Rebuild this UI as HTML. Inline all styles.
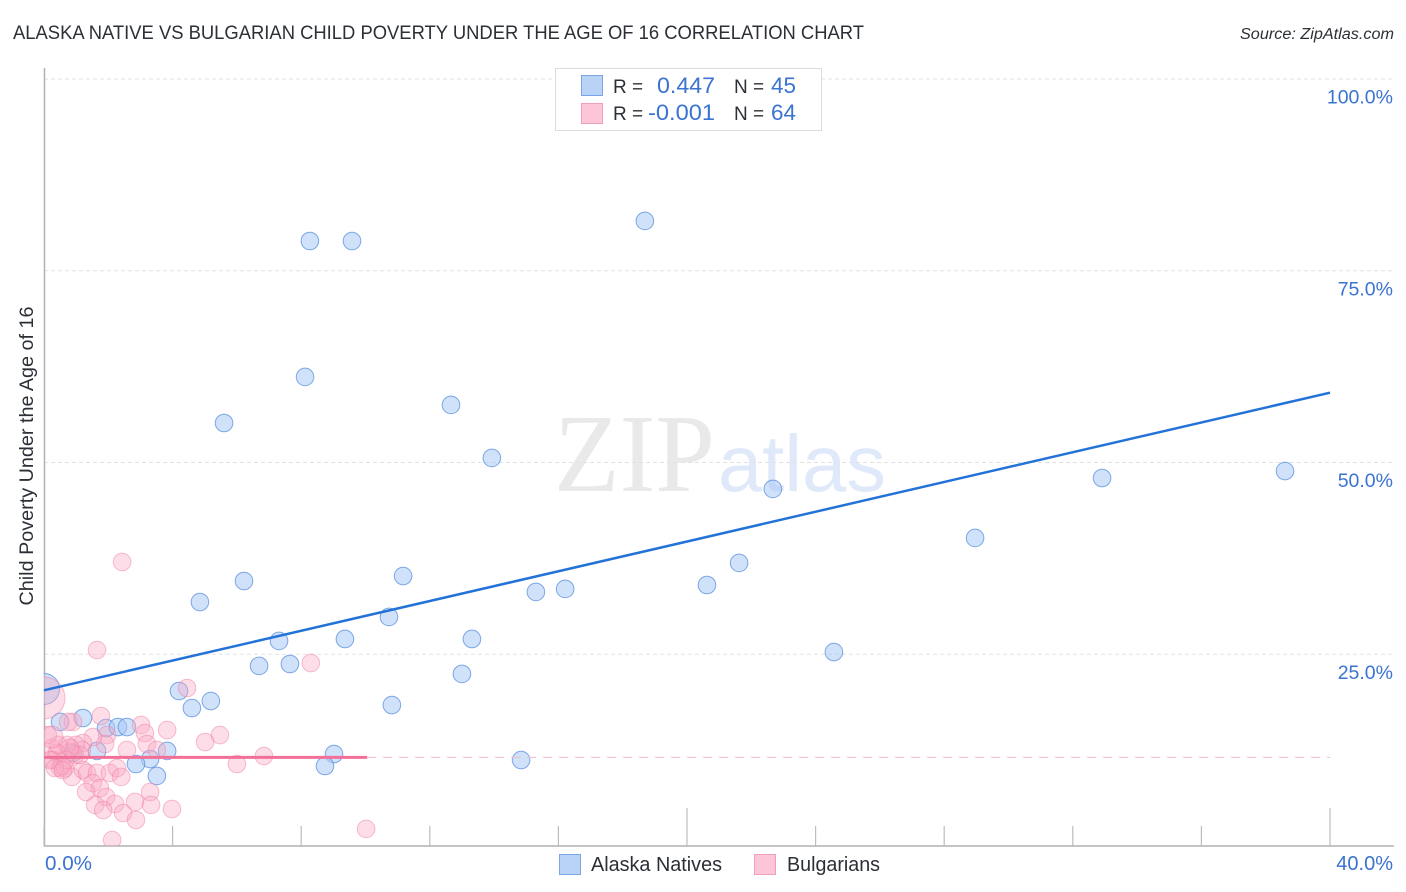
<!DOCTYPE html>
<html lang="en">
<head>
<meta charset="utf-8">
<title>Alaska Native vs Bulgarian Child Poverty Correlation Chart</title>
<style>
html,body{margin:0;padding:0;background:#fff;}
svg{display:block;font-family:"Liberation Sans",sans-serif;}
</style>
</head>
<body>
<svg id="chart" xmlns="http://www.w3.org/2000/svg" width="1406" height="892" viewBox="0 0 1406 892">
  <defs><clipPath id="plot-clip"><rect x="44" y="60" width="1350" height="786"/></clipPath></defs>
  <text x="13" y="39" font-size="19.5" fill="#2b2f36" textLength="851" lengthAdjust="spacingAndGlyphs">ALASKA NATIVE VS BULGARIAN CHILD POVERTY UNDER THE AGE OF 16 CORRELATION CHART</text>
  <text x="1394" y="39" font-size="15.5" font-style="italic" fill="#2b2f36" text-anchor="end" textLength="154" lengthAdjust="spacingAndGlyphs">Source: ZipAtlas.com</text>
  <g>
    <text x="554" y="491" font-family="'Liberation Serif',serif" font-size="111" fill="#e9e9e9" textLength="161" lengthAdjust="spacingAndGlyphs">ZIP</text>
    <text x="718" y="491" font-size="80" fill="#dfe9fa" textLength="168" lengthAdjust="spacingAndGlyphs">atlas</text>
  </g>
  <g id="grid"></g>
  <g id="axes"></g>
  <g id="marks" clip-path="url(#plot-clip)"></g>
  <g id="trends"></g>
  <text transform="translate(33,456) rotate(-90)" font-size="19" fill="#2b2f36" text-anchor="middle" textLength="299" lengthAdjust="spacingAndGlyphs">Child Poverty Under the Age of 16</text>
  <g>
    <rect x="555.5" y="68.5" width="266" height="62" fill="#fff" stroke="#dcdcdc"/>
    <rect x="581.5" y="75.5" width="21" height="20" fill="#b9d3f7" stroke="#7aa5e6"/>
    <rect x="581.5" y="103.5" width="21" height="20" fill="#fcc5d8" stroke="#f0a0bb"/>
    <text x="613" y="93" font-size="19" fill="#2b2f36">R =</text>
    <text x="715" y="93" font-size="22" fill="#3a73d0" text-anchor="end" textLength="58" lengthAdjust="spacingAndGlyphs">0.447</text>
    <text x="734" y="93" font-size="19" fill="#2b2f36">N =</text>
    <text x="771" y="93" font-size="22" fill="#3a73d0" textLength="25" lengthAdjust="spacingAndGlyphs">45</text>
    <text x="613" y="120" font-size="19" fill="#2b2f36">R =</text>
    <text x="715" y="120" font-size="22" fill="#3a73d0" text-anchor="end" textLength="67" lengthAdjust="spacingAndGlyphs">-0.001</text>
    <text x="734" y="120" font-size="19" fill="#2b2f36">N =</text>
    <text x="771" y="120" font-size="22" fill="#3a73d0" textLength="25" lengthAdjust="spacingAndGlyphs">64</text>
  </g>
  <g>
    <rect x="559.5" y="854.5" width="21" height="20" fill="#b9d3f7" stroke="#7aa5e6"/>
    <text x="591" y="871" font-size="20" fill="#2b2f36" textLength="131" lengthAdjust="spacingAndGlyphs">Alaska Natives</text>
    <rect x="754.5" y="854.5" width="21" height="20" fill="#fcc5d8" stroke="#f0a0bb"/>
    <text x="787" y="871" font-size="20" fill="#2b2f36" textLength="93" lengthAdjust="spacingAndGlyphs">Bulgarians</text>
  </g>
</svg>
<script>
const yTickValues = [25, 50, 75, 100];
const yTickLabels = ['25.0%', '50.0%', '75.0%', '100.0%'];
const xTickValues = [0, 4, 8, 12, 16, 20, 24, 28, 32, 36, 40];
const xMajorTicks = [20, 40];
const xEndLabels = ['0.0%', '40.0%'];

const blueX = [18.69, 8.27, 9.58, 8.12, 12.66, 5.60, 13.93, 22.67, 32.91, 38.60, 28.96, 21.62, 20.62, 11.17, 6.22, 4.85, 15.30, 16.21, 10.73, 7.31, 9.36, 13.31, 24.57, 6.69, 7.65, 13.00, 4.20, 5.19, 4.60, 10.82, 0.50, 1.21, 1.93, 2.30, 2.58, 1.65, 3.83, 3.30, 2.86, 3.51, 9.02, 8.74, 14.84, 0.90];
const blueY = [81.49, 78.88, 78.88, 61.15, 57.50, 55.15, 50.59, 46.55, 47.98, 48.89, 40.16, 36.90, 34.03, 35.20, 34.55, 31.81, 33.12, 33.51, 29.86, 26.73, 26.99, 26.99, 25.29, 23.47, 23.73, 22.43, 20.21, 18.90, 17.99, 18.38, 16.17, 16.69, 15.38, 15.51, 15.51, 12.39, 12.39, 11.34, 10.69, 9.13, 11.99, 10.43, 11.21, 12.13];
const blueLargeX = [0];
const blueLargeY = [20.47];

const pinkX = [1.65, 2.43, 8.30, 4.45, 0.90, 0.75, 1.77, 3.02, 3.14, 3.83, 3.20, 5.47, 5.01, 6.84, 6.00, 2.58, 3.51, 1.96, 1.90, 1.52, 0.25, 0.72, 1.21, 1.18, 0.81, 0.96, 0.40, 0.28, 0.50, 0.65, 0.87, 1.21, 1.34, 1.65, 2.05, 2.27, 2.40, 1.52, 1.74, 1.31, 1.93, 2.21, 1.59, 1.84, 2.83, 3.30, 3.33, 2.46, 2.86, 3.98, 2.12, 10.02, 0.19, 0.56, 0.68, 0.34, 0.99, 1.12, 0.81, 0.44, 0.59, 0.12];
const pinkY = [25.55, 37.03, 23.86, 20.60, 16.17, 16.17, 16.95, 15.78, 14.73, 15.12, 13.30, 14.47, 13.56, 11.73, 10.69, 12.52, 12.52, 14.47, 13.30, 14.21, 12.78, 13.17, 13.43, 12.52, 12.26, 11.86, 12.13, 11.21, 10.17, 10.17, 9.00, 9.91, 9.52, 9.52, 9.52, 10.17, 9.00, 8.21, 7.56, 7.04, 6.39, 5.48, 5.35, 4.69, 5.74, 7.04, 5.35, 4.30, 3.39, 4.82, 0.78, 2.22, 11.21, 10.43, 11.21, 10.17, 13.17, 11.86, 12.78, 13.17, 9.91, 14.47];
const pinkLargeX = [0, 0.25];
const pinkLargeY = [19.30, 14.21];
const pinkLargeSizes = [21, 11];

const blueTrendX = [0, 40];
const blueTrendY = [20.3, 59.1];
const pinkTrendX = [0, 10.05];
const pinkTrendY = [11.55, 11.55];
const pinkTrendExtendX = [10.05, 40];

const NS = 'http://www.w3.org/2000/svg';
function xScale(v) { return 44 + v * 32.15; }
function yScale(v) { return 846 - v * 7.67; }
function make(tag, parent, attrs) {
  const el = document.createElementNS(NS, tag);
  Object.keys(attrs).forEach(function (k) { el.setAttribute(k, attrs[k]); });
  parent.appendChild(el);
  return el;
}
const grid = document.getElementById('grid');
const axes = document.getElementById('axes');
const marks = document.getElementById('marks');
const trends = document.getElementById('trends');

yTickValues.forEach(function (v, i) {
  const line = make('line', grid, {x1: 44, x2: 1393, y1: yScale(v), y2: yScale(v), stroke: '#e2e2e2', 'stroke-width': 1, 'stroke-dasharray': '4 3'});
  
  
  const label = make('text', axes, {x: 1393, y: yScale(v) + 24.5, 'font-size': 19.5, fill: '#3a73d0', 'text-anchor': 'end'});
  
  
  label.textContent = yTickLabels[i];
});

const yAxisLine = make('line', axes, {x1: 44.5, x2: 44.5, y1: 68, y2: 846.5, stroke: '#b0b0b0', 'stroke-width': 1.5});


const xAxisLine = make('line', axes, {x1: 44, x2: 1394, y1: 846, y2: 846, stroke: '#b0b0b0', 'stroke-width': 1.5});



xTickValues.forEach(function (v) {
  const isMajor = xMajorTicks.indexOf(v) >= 0;
  const tick = make('line', axes, {x1: xScale(v), x2: xScale(v), y1: isMajor ? 808 : 826, y2: 846, stroke: '#bdbdbd', 'stroke-width': 1.2});
  
  
});

const xLabelStart = make('text', axes, {x: 45, y: 870, 'font-size': 20, fill: '#3a73d0', textLength: 47, lengthAdjust: 'spacingAndGlyphs'});


xLabelStart.textContent = xEndLabels[0];
const xLabelEnd = make('text', axes, {x: 1393, y: 870, 'font-size': 20, fill: '#3a73d0', 'text-anchor': 'end'});


xLabelEnd.textContent = xEndLabels[1];

function pinkDot(x, y, r) {
  const c = make('circle', marks, {cx: xScale(x), cy: yScale(y), r: r, fill: '#f9a8c2', 'fill-opacity': 0.38, stroke: '#ee7fa3', 'stroke-opacity': 0.5, 'stroke-width': 1});
  
  
}
function blueDot(x, y, r) {
  const c = make('circle', marks, {cx: xScale(x), cy: yScale(y), r: r, fill: '#a9c9f5', 'fill-opacity': 0.55, stroke: '#4f88dc', 'stroke-opacity': 0.7, 'stroke-width': 1});
  
  
}
blueX.forEach(function (x, i) { blueDot(x, blueY[i], 8.8); });
blueLargeX.forEach(function (x, i) { blueDot(x, blueLargeY[i], 15.5); });
pinkX.forEach(function (x, i) { pinkDot(x, pinkY[i], 8.8); });
pinkLargeX.forEach(function (x, i) { pinkDot(x, pinkLargeY[i], pinkLargeSizes[i]); });

const pinkDash = make('line', trends, {x1: xScale(pinkTrendExtendX[0]), x2: xScale(pinkTrendExtendX[1]), y1: yScale(pinkTrendY[1]), y2: yScale(pinkTrendY[1]), stroke: '#eebbcd', 'stroke-width': 1, 'stroke-dasharray': '9 7'});


const pinkLine = make('line', trends, {x1: xScale(pinkTrendX[0]), x2: xScale(pinkTrendX[1]), y1: yScale(pinkTrendY[0]), y2: yScale(pinkTrendY[1]), stroke: '#f27098', 'stroke-width': 3});


const blueLine = make('line', trends, {x1: xScale(blueTrendX[0]), x2: xScale(blueTrendX[1]), y1: yScale(blueTrendY[0]), y2: yScale(blueTrendY[1]), stroke: '#2272d8', 'stroke-width': 2.5});


</script>
</body>
</html>
